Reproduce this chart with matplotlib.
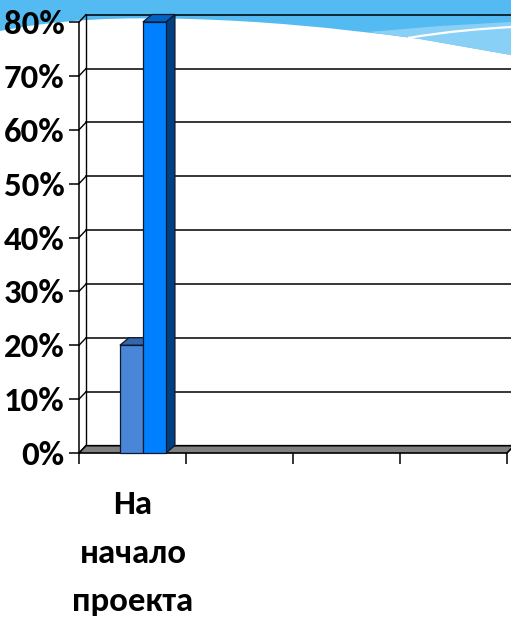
import numpy as np
import matplotlib
matplotlib.use('Agg')
import matplotlib.pyplot as plt
from matplotlib.patches import Polygon, PathPatch
from matplotlib.path import Path
from matplotlib.transforms import Affine2D

# data
categories = ['На\nначало\nпроекта', '', '', '']
series_a = [20, np.nan, np.nan, np.nan]
series_b = [80, np.nan, np.nan, np.nan]
yticks = [0, 10, 20, 30, 40, 50, 60, 70, 80]
ytick_labels = ['%d%%' % v for v in yticks]

W, H = 511, 620
fig = plt.figure(figsize=(W / 100, H / 100), dpi=100)
fig.patch.set_facecolor('white')

# background wave (slide decoration), pixel coords from top-left
px = Affine2D().scale(1.0 / W, -1.0 / H).translate(0, 1) + fig.transFigure
verts = [(0, 0), (0, 31),
         (60, 19), (120, 17), (190, 19),
         (260, 21), (330, 27), (420, 39),
         (511, 55), (511, 0), (0, 0)]
codes = [Path.MOVETO, Path.LINETO,
         Path.CURVE4, Path.CURVE4, Path.CURVE4,
         Path.CURVE4, Path.CURVE4, Path.CURVE4,
         Path.LINETO, Path.LINETO, Path.CLOSEPOLY]
fig.patches.append(PathPatch(Path(verts, codes), facecolor='#53bbf2', edgecolor='none', transform=px, zorder=-5))
fig.patches.append(Polygon([(368, 32), (440, 26), (511, 22), (511, 55), (420, 39)],
                           closed=True, facecolor='#88d0f5', edgecolor='none', transform=px, zorder=-5))
wl = Path([(408, 38), (450, 31), (480, 29), (511, 27)], [Path.MOVETO, Path.CURVE4, Path.CURVE4, Path.CURVE4])
fig.patches.append(PathPatch(wl, facecolor='none', edgecolor='white', lw=1.6, transform=px, zorder=-5))

ax = fig.add_axes([79 / W, (H - 453) / H, 428 / W, 431 / H])
ax.set_facecolor('none')
ax.set_xlim(0, len(categories))
ax.set_ylim(0, 80)

# 3d offsets in data units
ppx = 428 / len(categories)
ppy = 431 / 80
wall_dx, wall_dy = 7 / ppx, 7.3 / ppy
bar_dx, bar_dy = 9 / ppx, 7.5 / ppy

# back wall gridlines and left wall
for v in yticks:
    ax.plot([wall_dx, len(categories) + wall_dx], [v + wall_dy] * 2, color='black', lw=1.1, clip_on=False, zorder=1)
    ax.plot([0, wall_dx], [v, v + wall_dy], color='black', lw=1.0, clip_on=False, zorder=1)
ax.plot([wall_dx, wall_dx], [wall_dy, 80 + wall_dy], color='black', lw=1.0, clip_on=False, zorder=1)

# floor
floor = Polygon([(0, 0), (len(categories), 0), (len(categories) + wall_dx, wall_dy), (wall_dx, wall_dy)],
                closed=True, facecolor='#808080', edgecolor='black', lw=1.2, clip_on=False, zorder=2)
ax.add_patch(floor)

# bars
width = 0.215
offsets = [-0.01, 0.205]
styles = [('#4a86d8', '#3366aa', '#2e5a96'), ('#0080ff', '#0063c6', '#003f80')]
x = np.arange(len(categories)) + 0.5
for vals, off, (front, top, side) in zip([series_a, series_b], offsets, styles):
    for xi, h in zip(x, vals):
        if np.isnan(h):
            continue
        x0 = xi + off - width / 2
        x1 = x0 + width
        ax.add_patch(Polygon([(x1, 0), (x1 + bar_dx, bar_dy), (x1 + bar_dx, h + bar_dy), (x1, h)],
                             closed=True, facecolor=side, edgecolor='#101830', lw=0.9, clip_on=False, zorder=3))
        ax.add_patch(Polygon([(x0, h), (x1, h), (x1 + bar_dx, h + bar_dy), (x0 + bar_dx, h + bar_dy)],
                             closed=True, facecolor=top, edgecolor='#101830', lw=0.9, clip_on=False, zorder=3))
        ax.bar(x0, h, width=width, align='edge', color=front, edgecolor='#101830', lw=0.9, zorder=3, clip_on=False)

for s in ['top', 'right', 'bottom']:
    ax.spines[s].set_visible(False)
ax.spines['left'].set_linewidth(1.1)
ax.spines['left'].set_zorder(4)

font = ['Carlito', 'DejaVu Sans']
ax.set_yticks(yticks)
ax.set_yticklabels(ytick_labels, family=font, fontweight='bold', fontsize=25)
ax.tick_params(axis='y', length=7, width=1.1, pad=3.5)

ax.set_xticks(np.arange(len(categories) + 1))
ax.set_xticklabels([])
ax.tick_params(axis='x', which='major', length=8, width=1.1)
ax.set_xticks(np.arange(len(categories)) + 0.505, minor=True)
ax.set_xticklabels(categories, minor=True, family=font, fontweight='bold', fontsize=25, linespacing=1.8, va='top')
ax.tick_params(axis='x', which='minor', length=0, pad=27)

fig.savefig('out.png', dpi=100)
